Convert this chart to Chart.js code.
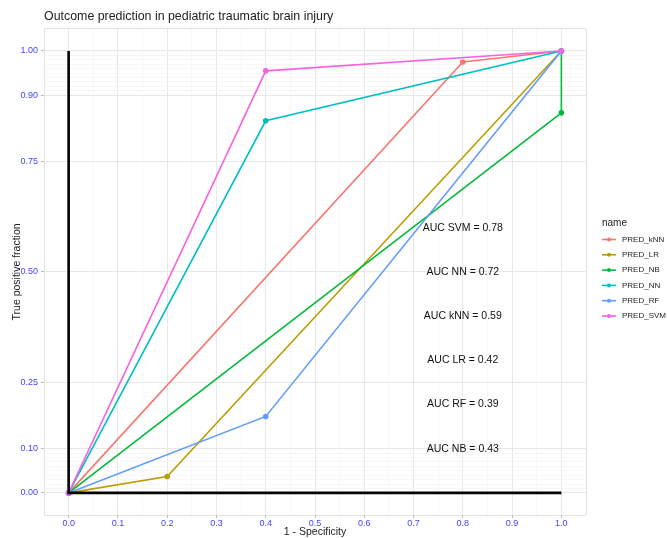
<!DOCTYPE html>
<html>
<head>
<meta charset="utf-8">
<script src="https://cdn.jsdelivr.net/npm/chart.js@4"></script>
<style>
  html, body { margin: 0; padding: 0; background: #fff; }
  #wrap { width: 667px; height: 538px; position: relative; }
</style>
</head>
<body>
<div id="wrap"><canvas id="roc"></canvas></div>
<script>
// ROC curves (1 - specificity, sensitivity) per model
const seriesNames = ["PRED_kNN", "PRED_LR", "PRED_NB", "PRED_NN", "PRED_RF", "PRED_SVM"];
const seriesColors = ["#F8766D", "#B79F00", "#00BA38", "#00BFC4", "#619CFF", "#F564E3"];

const knnX = [0, 0.8, 1];   const knnY = [0, 0.975, 1];
const lrX  = [0, 0.2, 1];   const lrY  = [0, 0.037, 1];
const nbX  = [0, 1, 1];     const nbY  = [0, 0.86, 1];
const nnX  = [0, 0.4, 1];   const nnY  = [0, 0.842, 1];
const rfX  = [0, 0.4, 1];   const rfY  = [0, 0.173, 1];
const svmX = [0, 0.4, 1];   const svmY = [0, 0.955, 1];

// black reference lines (left edge + bottom edge)
const refX = [0, 0, 1];
const refY = [1, 0, 0];

// AUC annotations
const aucLabels = ["AUC SVM = 0.78", "AUC NN = 0.72", "AUC kNN = 0.59", "AUC LR = 0.42", "AUC RF = 0.39", "AUC NB = 0.43"];
const aucX = 0.8;
const aucY = [0.6, 0.5, 0.4, 0.3, 0.2, 0.1];

// axis breaks
const xMajor = [0, 0.1, 0.2, 0.3, 0.4, 0.5, 0.6, 0.7, 0.8, 0.9, 1];
const xMinor = [0.05, 0.15, 0.25, 0.35, 0.45, 0.55, 0.65, 0.75, 0.85, 0.95];
const yMajor = [0, 0.1, 0.25, 0.5, 0.75, 0.9, 1];
const yMinor = [0.01, 0.02, 0.03, 0.04, 0.05, 0.06, 0.07, 0.08, 0.09,
                0.91, 0.92, 0.93, 0.94, 0.95, 0.96, 0.97, 0.98, 0.99];
const axMin = -0.05, axMax = 1.05;

const xsList = [knnX, lrX, nbX, nnX, rfX, svmX];
const ysList = [knnY, lrY, nbY, nnY, rfY, svmY];

function toPoints(xs, ys) {
    return xs.map((x, i) => ({ x: x, y: ys[i] }));
}
function isIn(arr, v) {
    return arr.some(a => Math.abs(a - v) < 1e-6);
}

const datasets = seriesNames.map((name, i) => ({
    label: name,
    data: toPoints(xsList[i], ysList[i]),
    showLine: true,
    borderColor: seriesColors[i],
    backgroundColor: seriesColors[i],
    borderWidth: 1.6,
    pointRadius: 2,
    pointHoverRadius: 2,
    order: seriesNames.length - i // later series drawn on top
}));
datasets.push({
    label: "ref",
    data: toPoints(refX, refY),
    showLine: true,
    borderColor: "#000",
    borderWidth: 2.6,
    pointRadius: 0,
    order: 0
});

const tickFont = { family: "'Liberation Sans', Arial, sans-serif", size: 9 };
const tickBlue = "#4444ff";

function gridColor(ctx, major) {
    const v = ctx.tick ? ctx.tick.value : null;
    if (v === null) return "transparent";
    if (Math.abs(v - axMin) < 1e-6 || Math.abs(v - axMax) < 1e-6) return "#d6d6d6";
    return isIn(major, v) ? "#e8e8e8" : "#f3f3f3";
}

// AUC texts + legend drawn after the chart
const extrasPlugin = {
    id: "extras",
    afterDatasetsDraw(chart) {
        const c = chart.ctx;
        const xs = chart.scales.x, ys = chart.scales.y;
        c.save();
        c.fillStyle = "#111";
        c.font = "10.5px 'Liberation Sans', Arial, sans-serif";
        c.textAlign = "center";
        c.textBaseline = "middle";
        aucLabels.forEach((t, i) => {
            c.fillText(t, xs.getPixelForValue(aucX), ys.getPixelForValue(aucY[i]));
        });

        // legend
        const lx = 602, ly = 223, step = 15.3;
        c.textAlign = "left";
        c.fillStyle = "#222";
        c.font = "10px 'Liberation Sans', Arial, sans-serif";
        c.fillText("name", lx, ly);
        c.font = "8px 'Liberation Sans', Arial, sans-serif";
        seriesNames.forEach((name, i) => {
            const y = ly + 16.5 + i * step;
            c.strokeStyle = seriesColors[i];
            c.lineWidth = 1.6;
            c.beginPath();
            c.moveTo(lx, y);
            c.lineTo(lx + 14, y);
            c.stroke();
            c.fillStyle = seriesColors[i];
            c.beginPath();
            c.arc(lx + 7, y, 2, 0, Math.PI * 2);
            c.fill();
            c.fillStyle = "#222";
            c.fillText(name, lx + 20, y);
        });
        c.restore();
    }
};

new Chart(document.getElementById("roc"), {
    type: "scatter",
    data: { datasets: datasets },
    options: {
        responsive: true,
        maintainAspectRatio: false,
        animation: false,
        layout: { padding: { left: 11, right: 81, top: 0, bottom: 0 } },
        plugins: {
            legend: { display: false },
            tooltip: { enabled: false },
            title: {
                display: true,
                text: "Outcome prediction in pediatric traumatic brain injury",
                align: "start",
                fullSize: false,
                color: "#222",
                font: { family: "'Liberation Sans', Arial, sans-serif", size: 12.4, weight: "normal" },
                padding: { top: 9.5, bottom: 4.5 }
            }
        },
        scales: {
            x: {
                type: "linear",
                min: axMin,
                max: axMax,
                afterBuildTicks(scale) {
                    scale.ticks = [axMin].concat(xMajor, xMinor, [axMax])
                        .sort((a, b) => a - b).map(v => ({ value: v }));
                },
                afterFit(scale) { scale.height = 23; },
                ticks: {
                    autoSkip: false,
                    maxRotation: 0,
                    padding: 0,
                    color: tickBlue,
                    font: tickFont,
                    callback: v => isIn(xMajor, v) ? v.toFixed(1) : ""
                },
                grid: {
                    color: ctx => gridColor(ctx, xMajor),
                    lineWidth: ctx => (ctx.tick && isIn(xMajor, ctx.tick.value)) ? 1 : 0.7,
                    tickLength: 3,
                    tickColor: ctx => (ctx.tick && isIn(xMajor, ctx.tick.value)) ? "#bbb" : "transparent"
                },
                border: { display: false },
                title: {
                    display: true,
                    text: "1 - Specificity",
                    color: "#222",
                    font: { family: "'Liberation Sans', Arial, sans-serif", size: 10.5 },
                    padding: { top: 0, bottom: 0 }
                }
            },
            y: {
                type: "linear",
                min: axMin,
                max: axMax,
                afterBuildTicks(scale) {
                    scale.ticks = [axMin].concat(yMajor, yMinor, [axMax])
                        .sort((a, b) => a - b).map(v => ({ value: v }));
                },
                afterFit(scale) { scale.width = 33; },
                ticks: {
                    autoSkip: false,
                    padding: 3,
                    color: tickBlue,
                    font: tickFont,
                    callback: v => isIn(yMajor, v) ? v.toFixed(2) : ""
                },
                grid: {
                    color: ctx => gridColor(ctx, yMajor),
                    lineWidth: ctx => (ctx.tick && isIn(yMajor, ctx.tick.value)) ? 1 : 0.7,
                    tickLength: 3,
                    tickColor: ctx => (ctx.tick && isIn(yMajor, ctx.tick.value)) ? "#bbb" : "transparent"
                },
                border: { display: false },
                title: {
                    display: true,
                    text: "True positive fraction",
                    color: "#222",
                    font: { family: "'Liberation Sans', Arial, sans-serif", size: 10.5 },
                    padding: { top: 0, bottom: 0 }
                }
            }
        }
    },
    plugins: [extrasPlugin]
});
</script>
</body>
</html>
